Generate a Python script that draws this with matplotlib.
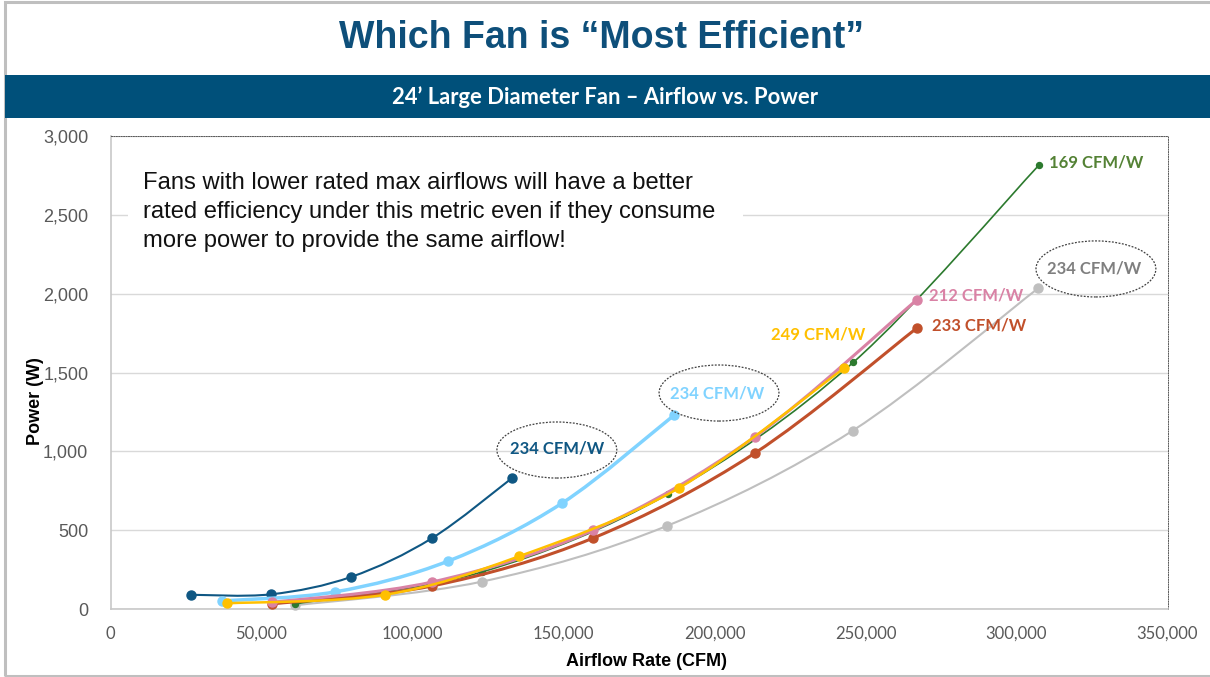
import numpy as np
import matplotlib
matplotlib.use("Agg")
import matplotlib.pyplot as plt
from matplotlib.path import Path
from matplotlib.patches import PathPatch, Ellipse, Rectangle
from matplotlib.ticker import FuncFormatter, MultipleLocator

plt.rcParams['font.family'] = ['Liberation Sans', 'DejaVu Sans']

# ---- data (CFM, W) ----
navy_cfm = [26600, 53200, 79800, 106400, 133000]
navy_w = [92, 95, 206, 450, 832]

sky_cfm = [36800, 74300, 111900, 149500, 186700]
sky_w = [53, 110, 306, 672, 1231]

green_cfm = [61100, 122900, 184500, 246000, 307500]
green_w = [34, 236, 729, 1565, 2815]

gray_cfm = [61100, 122900, 184200, 245700, 307200]
gray_w = [25, 175, 528, 1131, 2034]

red_cfm = [53400, 106500, 159900, 213400, 266900]
red_w = [34, 148, 452, 990, 1780]

pink_cfm = [53400, 106500, 159900, 213400, 266900]
pink_w = [44, 173, 502, 1093, 1959]

gold_cfm = [38700, 90800, 135300, 188200, 242900]
gold_w = [38, 92, 336, 768, 1527]

labels = {'navy': '234 CFM/W', 'sky': '234 CFM/W', 'green': '169 CFM/W',
          'gray': '234 CFM/W', 'pink': '212 CFM/W', 'red': '233 CFM/W',
          'gold': '249 CFM/W'}

NAVY = '#0F5783'
SKY = '#80D3FF'
GREEN = '#2C7A2E'
GRAY = '#BFBFBF'
RED = '#C1502B'
PINK = '#D982A5'
GOLD = '#FFC000'


def smooth(x, y):
    # excel-ish smoothed line: catmull-rom turned into cubic beziers
    n = len(x)
    verts = [(x[0], y[0])]
    codes = [Path.MOVETO]
    for i in range(n - 1):
        a = max(i - 1, 0)
        d = min(i + 2, n - 1)
        c1 = (x[i] + (x[i+1] - x[a]) / 6.0, y[i] + (y[i+1] - y[a]) / 6.0)
        c2 = (x[i+1] - (x[d] - x[i]) / 6.0, y[i+1] - (y[d] - y[i]) / 6.0)
        verts += [c1, c2, (x[i+1], y[i+1])]
        codes += [Path.CURVE4] * 3
    return Path(verts, codes)


fig = plt.figure(figsize=(12.1, 6.77), dpi=100)

# slide frame + banner
fig.patches.append(Rectangle((5/1210, 1/677), 1.2, 674/677, transform=fig.transFigure,
                             facecolor='none', edgecolor='#BFBFBF', lw=2.2))
fig.patches.append(Rectangle((5/1210, 559/677), 1.0, 43/677, transform=fig.transFigure,
                             facecolor='#00507A', edgecolor='none'))
fig.text(0.497, 0.944, 'Which Fan is \u201cMost Efficient\u201d', ha='center', va='center',
         fontsize=27, fontweight='bold', color='#0E4F7A')
fig.text(0.500, 0.857, '24\u2019 Large Diameter Fan \u2013 Airflow vs. Power', ha='center', va='center',
         fontsize=15.8, fontweight='bold', color='white', family=['Lato', 'DejaVu Sans'])

ax = fig.add_axes([110.5/1210, 67.7/677, 1057/1210, 473.6/677])
ax.set_xlim(0, 350000)
ax.set_ylim(0, 3000)
ax.xaxis.set_major_locator(MultipleLocator(50000))
ax.yaxis.set_major_locator(MultipleLocator(500))
ax.xaxis.set_major_formatter(FuncFormatter(lambda v, p: f'{int(v):,}'))
ax.yaxis.set_major_formatter(FuncFormatter(lambda v, p: f'{int(v):,}'))
ax.tick_params(axis='both', length=0, colors='#595959')
ax.tick_params(axis='y', labelsize=13, pad=16)
ax.tick_params(axis='x', labelsize=12, pad=12)
for t in ax.get_xticklabels():
    t.set_family(['Lato', 'DejaVu Sans'])
ax.grid(axis='y', color='#D9D9D9', lw=1)
ax.set_axisbelow(True)
for s in ['left', 'bottom']:
    ax.spines[s].set_color('#C8C8C8')
    ax.spines[s].set_linewidth(1.2)
for s in ['top', 'right']:
    ax.spines[s].set_color('#595959')
    ax.spines[s].set_linewidth(0.7)
    ax.spines[s].set_linestyle((0, (1, 1.5)))

fig.text(36/1210, (677-401)/677, 'Power (W)', rotation=90, ha='center', va='center',
         fontsize=13, fontweight='bold')
fig.text(647/1210, (677-661)/677, 'Airflow Rate (CFM)', ha='center', va='center',
         fontsize=13, fontweight='bold')

series = [
    (gray_cfm, gray_w, GRAY, 1.5, 6.5),
    (navy_cfm, navy_w, NAVY, 1.5, 6.5),
    (sky_cfm, sky_w, SKY, 2.5, 6.5),
    (green_cfm, green_w, GREEN, 1.2, 4.3),
    (red_cfm, red_w, RED, 2.2, 6.5),
    (pink_cfm, pink_w, PINK, 2.2, 6.5),
    (gold_cfm, gold_w, GOLD, 1.8, 6.5),
]
for z, (xs, ys, c, lw, ms) in enumerate(series):
    ax.add_patch(PathPatch(smooth(xs, ys), facecolor='none', edgecolor=c, lw=lw,
                           zorder=3 + z, capstyle='round', joinstyle='round'))
    ax.plot(xs, ys, 'o', color=c, ms=ms, zorder=3 + z, clip_on=False)

# note box (white panel hides the gridline behind it)
ax.add_patch(Rectangle((0.0166, 0.705), 0.582, 0.265, transform=ax.transAxes,
                       facecolor='white', edgecolor='none', zorder=1.5))
ax.text(0.0307, 0.924,
        'Fans with lower rated max airflows will have a better\n'
        'rated efficiency under this metric even if they consume\n'
        'more power to provide the same airflow!',
        transform=ax.transAxes, ha='left', va='top', fontsize=17.1, color='#111111',
        linespacing=1.42, zorder=2)

# value labels
lab = dict(fontsize=12, fontweight='bold', va='center', family=['Lato', 'DejaVu Sans'], zorder=12)
ax.text(148000, 1020, labels['navy'], color=NAVY, ha='center', **lab)
ax.text(200800, 1370, labels['sky'], color=SKY, ha='center', **lab)
ax.text(310600, 2833, labels['green'], color='#548235', ha='left', **lab)
ax.text(325800, 2156, labels['gray'], color='#7F7F7F', ha='center', **lab)
ax.text(270900, 1990, labels['pink'], color=PINK, ha='left', **lab)
ax.text(272000, 1795, labels['red'], color=RED, ha='left', **lab)
ax.text(218700, 1738, labels['gold'], color=GOLD, ha='left', **lab)

for cx, cy in [(147800, 1009), (201500, 1370), (326300, 2156)]:
    ax.add_patch(Ellipse((cx, cy), 39700, 355, facecolor='none', edgecolor='#404040',
                         lw=0.9, ls=(0, (1.5, 1.2)), zorder=11, clip_on=False))

fig.savefig('out.png', dpi=100)
